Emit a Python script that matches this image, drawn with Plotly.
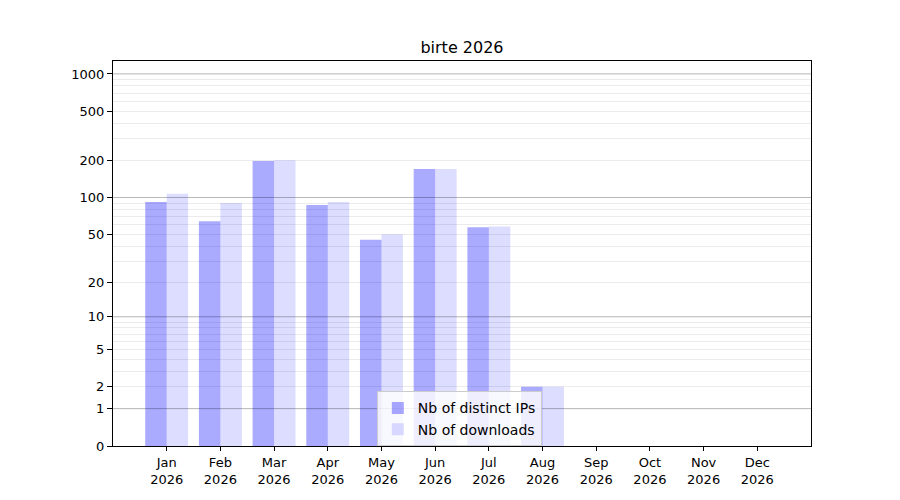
import numpy as np
import plotly.graph_objects as go

# ─── data ────────────────────────────────────
MONTHS = ["Jan", "Feb", "Mar", "Apr", "May", "Jun",
          "Jul", "Aug", "Sep", "Oct", "Nov", "Dec"]
YEAR = "2026"
DISTINCT_IPS = [92, 64, 198, 87, 45, 170, 57, 2, 0, 0, 0, 0]
DOWNLOADS = [107, 90, 201, 92, 50, 170, 58, 2, 0, 0, 0, 0]

Y_TICKS = [0, 1, 2, 5, 10, 20, 50, 100, 200, 500, 1000]
DECADES = [1, 10, 100, 1000]
MINOR_TICKS = [m * d for d in (1, 10, 100) for m in range(2, 10)]

# ─── style ───────────────────────────────────
COLOR_IPS = "rgba(0,0,255,0.333)"
COLOR_DL = "rgba(0,0,255,0.133)"
FONT = "DejaVu Sans"


def _t(v):
    # log(1 + x) scale, as in the original chart
    return np.log10(1 + np.asarray(v, dtype=float))


x = np.arange(len(MONTHS))

fig = go.Figure()
fig.add_trace(go.Bar(x=x, y=_t(DISTINCT_IPS), name="Nb of distinct IPs",
                     marker=dict(color=COLOR_IPS, line=dict(width=0))))
fig.add_trace(go.Bar(x=x, y=_t(DOWNLOADS), name="Nb of downloads",
                     marker=dict(color=COLOR_DL, line=dict(width=0))))

# darker grid at decades, drawn over the bars like the original
for d in DECADES:
    fig.add_hline(y=float(_t(d)), line=dict(color="rgba(0,0,0,0.22)", width=1),
                  layer="above")

fig.update_xaxes(
    range=[-1, 12],
    tickvals=x,
    ticktext=[f"{m}<br>{YEAR}" for m in MONTHS],
    ticks="outside", ticklen=4, tickcolor="black",
    showline=True, linecolor="black", linewidth=1, mirror=True,
    showgrid=False, zeroline=False,
    tickfont=dict(size=13, color="black"),
)
fig.update_yaxes(
    range=[0, 3.105],
    tickvals=_t(Y_TICKS),
    ticktext=[str(t) for t in Y_TICKS],
    ticks="outside", ticklen=5, tickcolor="black",
    showline=True, linecolor="black", linewidth=1, mirror=True,
    showgrid=True, gridcolor="#ebebeb", gridwidth=1, zeroline=False,
    minor=dict(tickmode="array", tickvals=_t(MINOR_TICKS), showgrid=True,
               gridcolor="#ebebeb", gridwidth=1, ticks=""),
    tickfont=dict(size=13, color="black"),
)

fig.update_layout(
    title=dict(text="birte 2026", x=454 / 900, xanchor="center",
               y=1 - 39 / 500, yanchor="middle",
               font=dict(size=16, color="black", family=FONT)),
    barmode="group", bargap=0.2, bargroupgap=0,
    width=900, height=500,
    margin=dict(l=105, r=97, t=53, b=62),
    plot_bgcolor="white", paper_bgcolor="white",
    font=dict(family=FONT, size=13, color="black"),
    legend=dict(x=0.378, y=0.142, xanchor="left", yanchor="top",
                bgcolor="rgba(255,255,255,0.8)", bordercolor="#cccccc",
                borderwidth=1, font=dict(size=14), tracegroupgap=0),
)

fig.write_html("out.html")
